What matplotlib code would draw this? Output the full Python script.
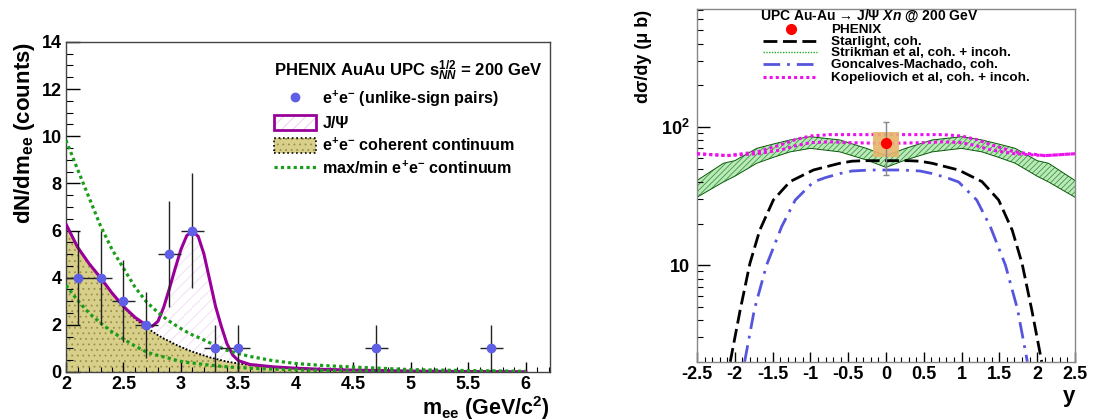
import numpy as np
import matplotlib
matplotlib.use('Agg')
import matplotlib.pyplot as plt
from matplotlib.lines import Line2D
from matplotlib.patches import Patch, Rectangle
from matplotlib.ticker import MultipleLocator, FixedLocator, NullFormatter, LogLocator

plt.rcParams['font.family'] = ['Liberation Sans', 'DejaVu Sans']
plt.rcParams['font.weight'] = 'bold'
plt.rcParams['mathtext.fontset'] = 'custom'
plt.rcParams['mathtext.rm'] = 'Liberation Sans:bold'
plt.rcParams['mathtext.it'] = 'Liberation Sans:bold:italic'
plt.rcParams['mathtext.bf'] = 'Liberation Sans:bold'
plt.rcParams['mathtext.default'] = 'rm'
plt.rcParams['hatch.linewidth'] = 0.6

# ---- left panel: invariant mass spectrum ----
mee_pts = [2.1, 2.3, 2.5, 2.7, 2.9, 3.1, 3.3, 3.5, 4.7, 5.7]
counts = [4, 4, 3, 2, 5, 6, 1, 1, 1, 1]
count_err = [2, 2, 1.73, 1.41, 2.24, 2.45, 1, 1, 1, 1]
mee_halfbin = [0.1] * 10

mee_grid = [2.0, 2.1, 2.2, 2.3, 2.4, 2.5, 2.6, 2.7, 2.75, 2.8, 2.85, 2.9, 2.95, 3.0, 3.05,
            3.1, 3.15, 3.2, 3.25, 3.3, 3.35, 3.4, 3.45, 3.5, 3.6, 3.8, 4.0, 4.25, 4.5,
            5.0, 5.5, 6.0]
cont = [6.27, 5.3, 4.6, 4.0, 3.35, 2.75, 2.27, 1.88, 1.72, 1.56, 1.42, 1.3, 1.17, 1.06, 0.96,
        0.86, 0.78, 0.7, 0.62, 0.56, 0.5, 0.44, 0.4, 0.36, 0.3, 0.22, 0.16, 0.11, 0.08,
        0.04, 0.02, 0.01]
total = [6.27, 5.3, 4.6, 4.0, 3.35, 2.78, 2.32, 1.98, 1.94, 2.15, 2.75, 3.55, 4.4, 5.2, 5.78,
         5.98, 5.75, 5.0, 3.9, 2.8, 1.95, 1.2, 0.72, 0.48, 0.32, 0.22, 0.16, 0.11, 0.08,
         0.04, 0.02, 0.01]
cont_max = [9.83, 8.6, 7.4, 6.2, 5.2, 4.4, 3.6, 2.97, 2.75, 2.52, 2.33, 2.15, 1.99, 1.84, 1.7,
            1.57, 1.47, 1.36, 1.24, 1.12, 1.02, 0.92, 0.85, 0.78, 0.66, 0.48, 0.36, 0.27, 0.21,
            0.1, 0.06, 0.03]
cont_min = [3.68, 3.04, 2.5, 2.08, 1.7, 1.4, 1.1, 0.85, 0.77, 0.7, 0.64, 0.58, 0.51, 0.45, 0.41,
            0.38, 0.35, 0.32, 0.29, 0.27, 0.24, 0.22, 0.2, 0.19, 0.16, 0.12, 0.09, 0.06, 0.04,
            0.02, 0.015, 0.01]

# ---- right panel: rapidity distribution ----
phx_y = [0.0]
phx_val = [76]
phx_stat_lo = [31]
phx_stat_hi = [32]
phx_sys_lo = [61]
phx_sys_hi = [92]

star_y = [-2.06, -1.93, -1.8, -1.67, -1.49, -1.27, -0.96, -0.61, -0.45, -0.3, 0.0,
          0.3, 0.45, 0.61, 0.96, 1.27, 1.49, 1.67, 1.8, 1.93, 2.06]
star_val = [2, 4.7, 10.3, 17.9, 29.6, 40.2, 48.8, 54.6, 56.5, 57, 57,
            57, 56.5, 54.6, 48.8, 40.2, 29.6, 17.9, 10.3, 4.7, 2]

gm_y = [-1.87, -1.74, -1.58, -1.38, -1.2, -0.96, -0.8, -0.61, -0.45, -0.2, 0.0,
        0.2, 0.45, 0.61, 0.8, 0.96, 1.2, 1.38, 1.58, 1.74, 1.87]
gm_val = [2, 4.8, 10, 19, 29.6, 40, 43, 46, 48, 48.8, 48.8,
          48.8, 48, 46, 43, 40, 29.6, 19, 10, 4.8, 2]

strik_y = [-2.5, -2.15, -2.0, -1.71, -1.5, -1.27, -1.0, -0.61, -0.26, 0.0,
           0.26, 0.61, 1.0, 1.27, 1.5, 1.71, 2.0, 2.15, 2.5]
strik_hi = [41, 54.6, 57, 70, 75, 80.5, 85, 80.5, 70, 62,
            70, 80.5, 85, 80.5, 75, 70, 57, 54.6, 41]
strik_lo = [31, 40, 44, 54.6, 60, 66, 70, 66, 57.7, 51,
            57.7, 66, 70, 66, 60, 54.6, 44, 40, 31]

kop_y = [-2.5, -2.1, -1.7, -1.4, -1.2, -1.0, -0.75, -0.5, 0.0, 0.5, 0.75, 1.0, 1.2, 1.4, 1.7, 2.1, 2.5]
kop_hi = [64, 62, 66, 74, 81, 86, 88, 88, 88, 88, 88, 86, 81, 74, 66, 62, 64]
kop_lo = [64, 62, 64, 68, 73, 77, 78, 77, 76, 77, 78, 77, 73, 68, 64, 62, 64]

BLUE = '#5e5ee6'
GREEN = '#1a9e1a'
MAG = '#990099'
PINK = '#ee11ee'
GM = '#5555dd'
KHAKI = '#d8d08a'
KHAKI_DOT = '#9a9048'

W, H = 1093, 420
fig = plt.figure(figsize=(W / 100, H / 100), dpi=100)

#left
ax1 = fig.add_axes([0.0604, 0.1143, 0.4428, 0.786])
ax1.fill_between(mee_grid, 0, cont, facecolor=KHAKI, edgecolor=KHAKI_DOT,
                 hatch='...', linewidth=0, zorder=1)
ax1.fill_between(mee_grid, cont, total, facecolor='white', edgecolor='#f2daf2',
                 hatch='///', linewidth=0, zorder=1)
ax1.plot(mee_grid, cont, color='k', ls=(0, (1, 1)), lw=1.3, zorder=2)
ax1.plot(mee_grid, total, color=MAG, lw=2.2, zorder=3)
ax1.plot(mee_grid, cont_max, color=GREEN, ls=(0, (1, 1)), lw=2.3, zorder=3)
ax1.plot(mee_grid, cont_min, color=GREEN, ls=(0, (1, 1)), lw=2.3, zorder=3)
ax1.errorbar(mee_pts, counts, xerr=mee_halfbin, yerr=count_err, fmt='o', color=BLUE,
             ecolor='#222222', elinewidth=1.0, ms=6, capsize=0, zorder=5)

ax1.set_xlim(2, 6.21)
ax1.set_ylim(0, 14)
ax1.xaxis.set_major_locator(MultipleLocator(0.5))
ax1.xaxis.set_minor_locator(MultipleLocator(0.1))
ax1.yaxis.set_major_locator(MultipleLocator(2))
ax1.yaxis.set_minor_locator(MultipleLocator(0.5))
ax1.xaxis.set_major_formatter(plt.FuncFormatter(lambda v, p: '%g' % v))
ax1.tick_params(which='both', direction='in', top=False, right=False, labelsize=13)
ax1.tick_params(which='major', axis='y', length=10, width=1, pad=3)
ax1.tick_params(which='minor', axis='y', length=5, width=0.8)
ax1.tick_params(which='major', axis='x', length=7, width=1, pad=3)
ax1.tick_params(which='minor', axis='x', length=3.6, width=0.8)
for s in ax1.spines.values():
    s.set_linewidth(1.0)
    s.set_color('#444444')

ax1.text(-0.085, 1.0, 'dN/dm$_{ee}$ (counts)', transform=ax1.transAxes, rotation=90,
         ha='center', va='top', fontsize=16)
fig.text(550 / W, 5 / H, 'm$_{ee}$ (GeV/c$^{2}$)', ha='right', va='baseline', fontsize=15.5)

# legend boxes: hatch and frame drawn as two overlaid patches
jpsi_h = (Patch(facecolor='white', edgecolor='#ecc8ec', hatch='///', lw=0),
          Patch(facecolor='none', edgecolor=MAG, lw=2))
cont_h = (Patch(facecolor=KHAKI, edgecolor=KHAKI_DOT, hatch='...', lw=0),
          Patch(facecolor='none', edgecolor='k', lw=1.2, ls=':'))
h1 = [Line2D([], [], marker='o', ls='none', color=BLUE, ms=6), jpsi_h, cont_h,
      Line2D([], [], color=GREEN, ls=(0, (1, 1)), lw=2.3)]
l1 = ['e$^{+}$e$^{-}$ (unlike-sign pairs)', 'J/Ψ', 'e$^{+}$e$^{-}$ coherent continuum',
      'max/min e$^{+}$e$^{-}$ continuum']
leg1 = ax1.legend(h1, l1, loc='upper left', bbox_to_anchor=(0.43, 0.95), frameon=False,
                  fontsize=11.6, title='PHENIX AuAu UPC s$_{\\mathit{NN}}^{1/2}$ = 200 GeV',
                  title_fontsize=12, alignment='left', handlelength=2.6, handleheight=1.05,
                  handletextpad=0.4, labelspacing=0.36, borderpad=0, borderaxespad=0)

#right
ax2 = fig.add_axes([0.6377, 0.1388, 0.3458, 0.8390])
ax2.set_yscale('log')
ax2.fill_between(strik_y, strik_lo, strik_hi, facecolor='#bce9bc', edgecolor='#3a9a3a',
                 hatch='//////', linewidth=0, zorder=1)
ax2.plot(strik_y, strik_hi, color='#0a5a0a', lw=0.7, zorder=2)
ax2.plot(strik_y, strik_lo, color='#0a5a0a', lw=0.7, zorder=2)
ax2.plot(star_y, star_val, color='k', ls=(0, (5, 2)), lw=2.0, zorder=3)
ax2.plot(gm_y, gm_val, color=GM, ls=(0, (6, 2.5, 1, 2.5)), lw=2.0, zorder=3)
ax2.plot(kop_y, kop_hi, color=PINK, ls=(0, (1, 1)), lw=2.2, zorder=4)
ax2.plot(kop_y, kop_lo, color=PINK, ls=(0, (1, 1)), lw=2.2, zorder=4)
for i in range(len(phx_y)):
    ax2.add_patch(Rectangle((phx_y[i] - 0.17, phx_sys_lo[i]), 0.34,
                            phx_sys_hi[i] - phx_sys_lo[i], facecolor='#e7b56c',
                            edgecolor='none', alpha=0.9, zorder=5))
ax2.errorbar(phx_y, phx_val, yerr=[phx_stat_lo, phx_stat_hi], fmt='o', color='#ff0000',
             ecolor='#888888', elinewidth=1.0, ms=7, capsize=2, zorder=6)

ax2.set_xlim(-2.5, 2.5)
ax2.set_ylim(2, 710)
ax2.xaxis.set_major_locator(MultipleLocator(0.5))
ax2.xaxis.set_minor_locator(MultipleLocator(0.1))
ax2.xaxis.set_major_formatter(plt.FuncFormatter(lambda v, p: '%g' % v))
ax2.yaxis.set_major_locator(FixedLocator([10, 100]))
ax2.set_yticklabels(['10', '10$^{2}$'])
ax2.yaxis.set_minor_locator(LogLocator(base=10, subs=np.arange(2, 10)))
ax2.yaxis.set_minor_formatter(NullFormatter())
ax2.tick_params(which='both', direction='in', top=False, right=False, labelsize=13)
ax2.tick_params(which='major', axis='y', length=9, width=1, pad=5)
ax2.tick_params(which='minor', axis='y', length=4.5, width=0.8)
ax2.tick_params(which='major', axis='x', length=7, width=1, pad=3)
ax2.tick_params(which='minor', axis='x', length=3.6, width=0.8)
for s in ax2.spines.values():
    s.set_linewidth(1.0)
    s.set_color('#888888')

fig.text(644 / W, 1 - 10 / H, 'dσ/dy (μ b)', rotation=90, ha='center', va='top', fontsize=13)
fig.text(1075 / W, 18 / H, 'y', ha='right', va='baseline', fontsize=16)

# right legend, placed by hand (rows are packed tighter than legend() allows)
fig.text(760 / W, 1 - 20 / H, 'UPC Au-Au → J/Ψ $\\mathit{Xn}$ @ 200 GeV', ha='left',
         va='baseline', fontsize=10)
leg_rows = [29, 40.7, 52.3, 64.3, 76.7]
l2 = ['PHENIX', 'Starlight, coh.', 'Strikman et al, coh. + incoh.',
      'Goncalves-Machado, coh.', 'Kopeliovich et al, coh. + incoh.']
h2 = [dict(marker='o', ls='none', color='#ff0000', ms=7),
      dict(color='k', ls=(0, (5, 2)), lw=2.0),
      dict(color='#22aa22', ls=(0, (1, 1)), lw=1.0),
      dict(color=GM, ls=(0, (6, 2.5, 1, 2.5)), lw=2.0),
      dict(color=PINK, ls=(0, (1, 1)), lw=2.2)]
for row, lab, st in zip(leg_rows, l2, h2):
    yf = 1 - row / H
    if st.get('marker'):
        fig.add_artist(Line2D([791 / W], [yf], transform=fig.transFigure, **st))
    else:
        fig.add_artist(Line2D([763 / W, 817 / W], [yf, yf], transform=fig.transFigure, **st))
    fig.text(831 / W, yf - 4 / H, lab, ha='left', va='baseline', fontsize=9.7)

fig.savefig('out.png', dpi=100)
